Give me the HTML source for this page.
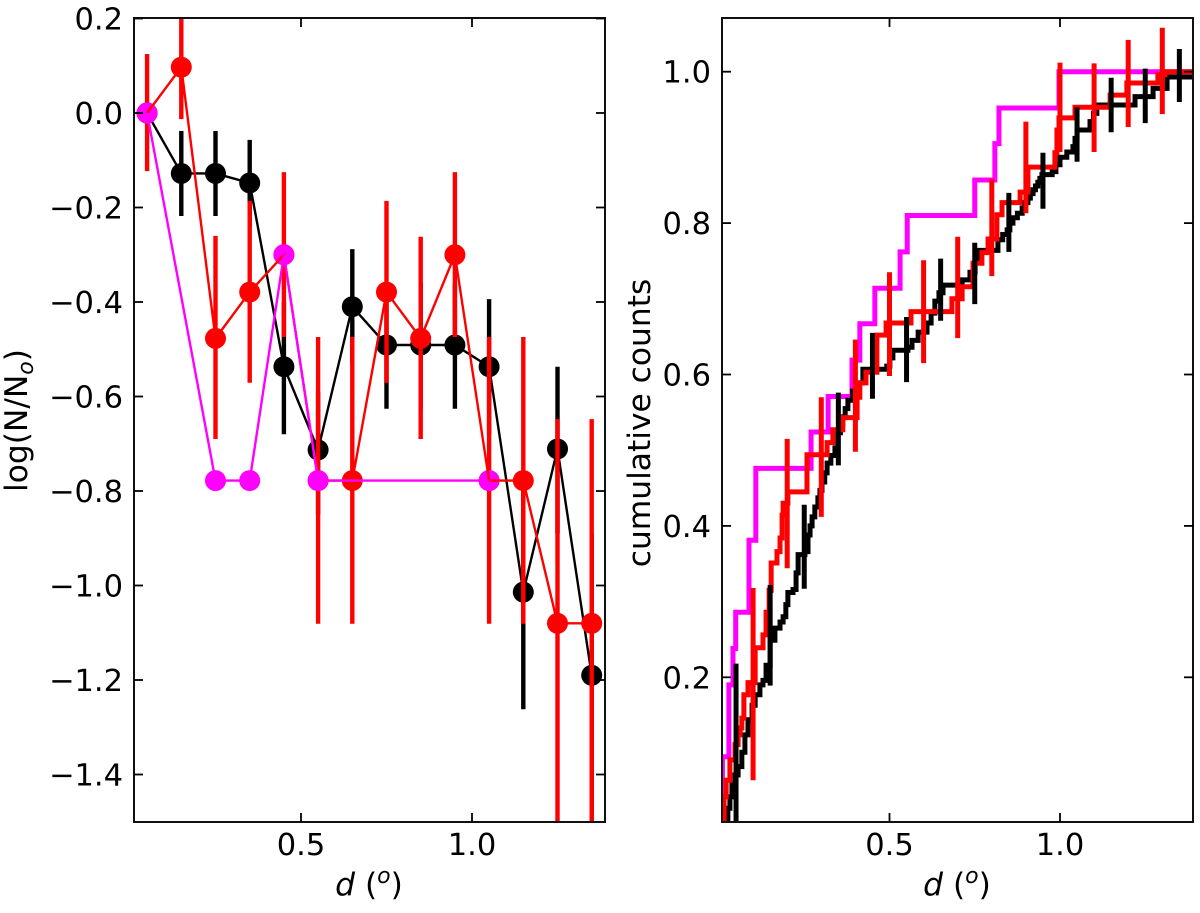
<!DOCTYPE html>
<html lang="en">
<head>
<meta charset="utf-8">
<title>Radial profile and cumulative counts</title>
<style>
html,body{margin:0;padding:0;background:#fff;width:1200px;height:913px;overflow:hidden}
svg{display:block}
text{font-family:"DejaVu Sans","Liberation Sans",sans-serif;font-size:31.3px;fill:#000}
text.tick-text{font-size:30.5px}
.it{font-style:italic}
</style>
</head>
<body>
<svg id="figure" xmlns="http://www.w3.org/2000/svg" width="1200" height="913" viewBox="0 0 1200 913">
  <defs>
    <clipPath id="clip-left"><rect x="134" y="18" width="471" height="804"/></clipPath>
    <clipPath id="clip-right"><rect x="722" y="18" width="471" height="804"/></clipPath>
  </defs>
  <g id="left-marks" clip-path="url(#clip-left)"></g>
  <g id="right-marks" clip-path="url(#clip-right)"></g>
  <rect x="134" y="18" width="471" height="804" fill="none" stroke="#111" stroke-width="2"/>
  <rect x="722" y="18" width="471" height="804" fill="none" stroke="#111" stroke-width="2"/>
  <g id="left-axis"></g>
  <g id="right-axis"></g>
  <text transform="translate(27,420.5) rotate(-90)" text-anchor="middle">log(N/N<tspan class="it" font-size="22" dy="6">o</tspan><tspan dy="-6">)</tspan></text>
  <text transform="translate(650,423) rotate(-90)" text-anchor="middle">cumulative counts</text>
  <text x="369" y="895" text-anchor="middle"><tspan class="it">d</tspan> (<tspan class="it" font-size="22" dy="-12">o</tspan><tspan dy="12">)</tspan></text>
  <text x="957" y="895" text-anchor="middle"><tspan class="it">d</tspan> (<tspan class="it" font-size="22" dy="-12">o</tspan><tspan dy="12">)</tspan></text>
</svg>
<script>
// ---------- Left panel data ----------
const leftBlackD = [0.05,0.15,0.25,0.35,0.45,0.55,0.65,0.75,0.85,0.95,1.05,1.15,1.25,1.35];
const leftBlackV = [0,-0.128,-0.128,-0.148,-0.537,-0.713,-0.41,-0.491,-0.491,-0.491,-0.537,-1.014,-0.711,-1.19];
const leftBlackHi = [0,-0.038,-0.038,-0.057,-0.40,-0.59,-0.288,-0.36,-0.36,-0.36,-0.394,-0.77,-0.537,-0.89];
const leftBlackLo = [0,-0.218,-0.218,-0.24,-0.68,-0.85,-0.53,-0.626,-0.626,-0.626,-0.68,-1.262,-0.89,-1.6];
const leftRedD = [0.05,0.15,0.25,0.35,0.45,0.55,0.65,0.75,0.85,0.95,1.05,1.15,1.25,1.35];
const leftRedV = [0,0.097,-0.477,-0.379,-0.30,-0.778,-0.778,-0.379,-0.477,-0.30,-0.778,-0.778,-1.08,-1.08];
const leftRedHi = [0.125,0.25,-0.26,-0.186,-0.125,-0.474,-0.474,-0.186,-0.262,-0.125,-0.474,-0.474,-0.648,-0.648];
const leftRedLo = [-0.123,-0.013,-0.69,-0.571,-0.474,-1.081,-1.081,-0.571,-0.69,-0.474,-1.081,-1.081,-1.6,-1.6];
const leftMagentaD = [0.05,0.25,0.35,0.45,0.55,1.05];
const leftMagentaV = [0,-0.778,-0.778,-0.30,-0.778,-0.778];
const leftYTicks = [0.2,0,-0.2,-0.4,-0.6,-0.8,-1.0,-1.2,-1.4];
const leftXTicks = [0.5,1.0];

// ---------- Right panel data ----------
const stepMagentaD = [0.009,0.010,0.029,0.041,0.049,0.088,0.108,0.27,0.32,0.39,0.413,0.457,0.531,0.552,0.75,0.809,0.821,0.997,1.39];
const stepMagentaV = [0.009,0.095,0.19,0.238,0.286,0.381,0.476,0.524,0.571,0.619,0.667,0.714,0.762,0.81,0.857,0.905,0.952,1.0,1.0];
const stepBlackD = [0.009,0.017,0.026,0.032,0.038,0.047,0.056,0.067,0.076,0.085,0.097,0.106,0.12,0.129,0.138,0.15,0.164,0.179,0.188,0.196,0.202,0.217,0.226,0.232,0.252,0.261,0.267,0.273,0.281,0.29,0.296,0.302,0.31,0.317,0.328,0.34,0.349,0.356,0.363,0.37,0.378,0.392,0.407,0.422,0.492,0.501,0.51,0.554,0.566,0.584,0.61,0.622,0.633,0.645,0.657,0.713,0.736,0.751,0.759,0.818,0.832,0.845,0.853,0.862,0.875,0.889,0.897,0.906,0.913,0.921,0.928,0.935,0.941,0.947,0.977,0.988,1.0,1.02,1.038,1.044,1.05,1.088,1.098,1.108,1.214,1.22,1.273,1.314,1.39];
const stepBlackV = [0.009,0.009,0.027,0.042,0.058,0.071,0.082,0.101,0.124,0.144,0.163,0.177,0.19,0.196,0.216,0.249,0.265,0.273,0.28,0.296,0.312,0.316,0.338,0.362,0.366,0.388,0.40,0.412,0.425,0.437,0.447,0.458,0.47,0.483,0.493,0.503,0.523,0.534,0.544,0.555,0.566,0.578,0.589,0.607,0.611,0.622,0.632,0.636,0.645,0.656,0.668,0.681,0.697,0.708,0.718,0.725,0.735,0.749,0.764,0.778,0.785,0.791,0.80,0.807,0.813,0.82,0.827,0.833,0.839,0.844,0.849,0.854,0.859,0.864,0.868,0.877,0.887,0.894,0.901,0.912,0.923,0.934,0.945,0.956,0.956,0.967,0.978,0.993,0.996];
const stepRedD = [0.009,0.015,0.021,0.032,0.047,0.056,0.062,0.067,0.073,0.085,0.106,0.129,0.138,0.147,0.153,0.17,0.179,0.185,0.188,0.202,0.258,0.317,0.334,0.363,0.405,0.413,0.431,0.463,0.49,0.563,0.683,0.713,0.745,0.771,0.789,0.815,0.83,0.883,0.906,0.985,0.991,0.997,1.044,1.147,1.196,1.287,1.308,1.39];
const stepRedV = [0.009,0.042,0.064,0.091,0.111,0.124,0.133,0.146,0.177,0.193,0.239,0.256,0.286,0.315,0.351,0.366,0.384,0.414,0.43,0.445,0.494,0.51,0.527,0.543,0.57,0.589,0.603,0.652,0.668,0.683,0.70,0.716,0.747,0.761,0.779,0.811,0.827,0.841,0.874,0.893,0.923,0.939,0.953,0.969,0.985,0.996,1.0,1.0];
const barBlackD = [0.05,0.15,0.25,0.35,0.45,0.55,0.65,0.75,0.85,0.95,1.05,1.15,1.25,1.35];
const barBlackHi = [0.218,0.322,0.428,0.576,0.655,0.676,0.753,0.774,0.84,0.893,0.953,0.992,1.004,1.03];
const barBlackLo = [-0.02,0.189,0.317,0.48,0.568,0.59,0.671,0.693,0.762,0.819,0.881,0.92,0.932,0.96];
const barRedD = [0.1,0.2,0.3,0.4,0.5,0.6,0.7,0.8,0.9,1.0,1.1,1.2,1.3];
const barRedHi = [0.318,0.515,0.57,0.646,0.735,0.751,0.782,0.858,0.934,1.012,1.011,1.042,1.058];
const barRedLo = [0.064,0.344,0.412,0.498,0.598,0.615,0.648,0.73,0.813,0.894,0.894,0.927,0.944];
const rightYTicks = [0.2,0.4,0.6,0.8,1.0];
const rightXTicks = [0.5,1.0];

// ---------- Axis functions ----------
function lx(d){ return 301 + (d - 0.5) * 342; }
function ly(v){ return 113 - 472.5 * v; }
function rx(d){ return 889.5 + (d - 0.5) * 341; }
function ry(v){ return 71.7 + (1 - v) * 757; }

const NS = 'http://www.w3.org/2000/svg';
const leftG = document.getElementById('left-marks');
const rightG = document.getElementById('right-marks');
const leftAxis = document.getElementById('left-axis');
const rightAxis = document.getElementById('right-axis');

function make(tag, parent, props){
  const el = document.createElementNS(NS, tag);
  for (const k in props) el.setAttribute(k, props[k]);
  parent.appendChild(el);
  return el;
}
function fmt(v){
  return (v < 0 ? '\u2212' : '') + Math.abs(v).toFixed(1);
}

function leftBars(ds, hi, lo, color, name){
  ds.forEach(function(d, i){
    if (hi[i] === lo[i]) return;
    const el = make('line', leftG, {x1:lx(d), x2:lx(d), y1:ly(hi[i]), y2:ly(lo[i]), stroke:color, 'stroke-width':4.4});
    
    
  });
}
function leftDots(ds, vs, color, name){
  ds.forEach(function(d, i){
    const el = make('circle', leftG, {cx:lx(d), cy:ly(vs[i]), r:10.5, fill:color});
    
    
  });
}
function leftLine(ds, vs, color, name){
  const pts = ds.map(function(d, i){ return lx(d) + ',' + ly(vs[i]); }).join(' ');
  const el = make('polyline', leftG, {points:pts, fill:'none', stroke:color, 'stroke-width':2.4});
  
  
}
function rightStep(ds, vs, color, name){
  let p = 'M' + rx(ds[0]) + ' ' + ry(vs[0]);
  for (let i = 1; i < ds.length; i++){
    p += 'H' + rx(ds[i]) + 'V' + ry(vs[i]);
  }
  const el = make('path', rightG, {d:p, fill:'none', stroke:color, 'stroke-width':5});
  
  
}
function rightBars(ds, hi, lo, color, name){
  ds.forEach(function(d, i){
    const el = make('line', rightG, {x1:rx(d), x2:rx(d), y1:ry(hi[i]), y2:ry(lo[i]), stroke:color, 'stroke-width':5});
    
    
  });
}
function ticks(parent, xs, ys, fx, fy, x0, x1, y0, y1, labelX, labelY, side){
  const T = 9;
  ys.forEach(function(v){
    const y = fy(v);
    const a = make('line', parent, {x1:x0, x2:x0 + T, y1:y, y2:y, stroke:'#000', 'stroke-width':1.8});
    
    
    const b = make('line', parent, {x1:x1 - T, x2:x1, y1:y, y2:y, stroke:'#000', 'stroke-width':1.8});
    
    
    const t = make('text', parent, {x:labelX, y:y + 11, 'text-anchor':'end', 'class':'tick-text'});
    
    
    t.textContent = fmt(v);
  });
  xs.forEach(function(d){
    const x = fx(d);
    const a = make('line', parent, {x1:x, x2:x, y1:y1 - T, y2:y1, stroke:'#000', 'stroke-width':1.8});
    
    
    const b = make('line', parent, {x1:x, x2:x, y1:y0, y2:y0 + T, stroke:'#000', 'stroke-width':1.8});
    
    
    const t = make('text', parent, {x:x, y:labelY, 'text-anchor':'middle', 'class':'tick-text'});
    
    
    t.textContent = fmt(d);
  });
}

// ---------- Draw left panel ----------
leftBars(leftBlackD, leftBlackHi, leftBlackLo, '#000', 'black-series');
leftDots(leftBlackD, leftBlackV, '#000', 'black-series');
leftLine(leftBlackD, leftBlackV, '#000', 'black-series');
leftBars(leftRedD, leftRedHi, leftRedLo, '#f00', 'red-series');
leftDots(leftRedD, leftRedV, '#f00', 'red-series');
leftDots(leftMagentaD, leftMagentaV, '#f0f', 'magenta-series');
leftLine(leftRedD, leftRedV, '#f00', 'red-series');
leftLine(leftMagentaD, leftMagentaV, '#f0f', 'magenta-series');

// ---------- Draw right panel ----------
rightStep(stepMagentaD, stepMagentaV, '#f0f', 'magenta-series');
rightStep(stepBlackD, stepBlackV, '#000', 'black-series');
rightStep(stepRedD, stepRedV, '#f00', 'red-series');
rightBars(barBlackD, barBlackHi, barBlackLo, '#000', 'black-series');
rightBars(barRedD, barRedHi, barRedLo, '#f00', 'red-series');

// ---------- Axes ----------
ticks(leftAxis, leftXTicks, leftYTicks, lx, ly, 134, 605, 18, 822, 123, 855, 'left');
ticks(rightAxis, rightXTicks, rightYTicks, rx, ry, 722, 1193, 18, 822, 711, 855, 'right');
</script>
</body>
</html>
